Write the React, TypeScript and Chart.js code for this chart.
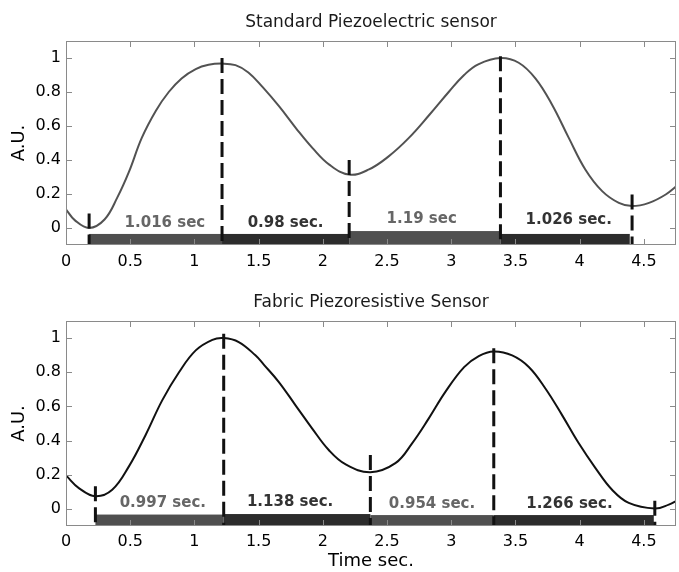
import React, { useEffect, useRef } from "react";
import { Chart, registerables } from "chart.js";

Chart.register(...registerables);

const FONT = "'DejaVu Sans', sans-serif";

// ---- axes ----
const X_MIN = 0;
const X_MAX = 4.75;
const Y_MIN = -0.1;
const Y_MAX = 1.1;
const xTicks = [0, 0.5, 1, 1.5, 2, 2.5, 3, 3.5, 4, 4.5];
const xTickLabels = ["0", "0.5", "1", "1.5", "2", "2.5", "3", "3.5", "4", "4.5"];
const yTicks = [0, 0.2, 0.4, 0.6, 0.8, 1];
const yTickLabels = ["0", "0.2", "0.4", "0.6", "0.8", "1"];

// ---- top panel: Standard Piezoelectric sensor ----
const topTitle = "Standard Piezoelectric sensor";
const topTime = [0, 0.07, 0.18, 0.3, 0.4, 0.49, 0.59, 0.7, 0.8, 0.9, 1.01, 1.11, 1.215, 1.32, 1.42, 1.53, 1.66, 1.79, 1.92, 2.05, 2.205, 2.355, 2.51, 2.67, 2.83, 2.98, 3.1, 3.21, 3.383, 3.525, 3.655, 3.785, 3.915, 4.045, 4.175, 4.305, 4.408, 4.54, 4.67, 4.77];
const topSignal = [0.11, 0.045, 0.0, 0.05, 0.18, 0.33, 0.53, 0.69, 0.8, 0.88, 0.935, 0.96, 0.967, 0.958, 0.915, 0.83, 0.715, 0.588, 0.47, 0.373, 0.314, 0.343, 0.42, 0.53, 0.666, 0.8, 0.9, 0.963, 1.0, 0.972, 0.88, 0.725, 0.53, 0.343, 0.217, 0.148, 0.129, 0.148, 0.197, 0.256];
const topMarkX = [0.18, 1.215, 2.205, 3.383, 4.408];
const topMarkTop = [0.086, 1.0, 0.4, 1.01, 0.197];
const topBarStart = [0.18, 1.215, 2.205, 3.383];
const topBarEnd = [1.215, 2.205, 3.383, 4.39];
const topBarTop = [-0.035, -0.035, -0.018, -0.035];
const topLabels = ["1.016 sec", "0.98 sec.", "1.19 sec", "1.026 sec."];
const topLabelX = [0.77, 1.71, 2.77, 3.915];
const topLabelY = [0.031, 0.031, 0.05, 0.045];

// ---- bottom panel: Fabric Piezoresistive Sensor ----
const botTitle = "Fabric Piezoresistive Sensor";
const botTime = [0, 0.1, 0.229, 0.36, 0.49, 0.62, 0.75, 0.88, 1.01, 1.14, 1.228, 1.345, 1.475, 1.54, 1.656, 1.786, 1.916, 2.046, 2.175, 2.37, 2.565, 2.695, 2.825, 2.954, 3.1, 3.214, 3.331, 3.474, 3.604, 3.733, 3.863, 3.993, 4.123, 4.252, 4.382, 4.585, 4.694, 4.77];
const botSignal = [0.196, 0.122, 0.074, 0.112, 0.249, 0.433, 0.637, 0.8, 0.928, 0.99, 1.0, 0.977, 0.899, 0.845, 0.744, 0.608, 0.472, 0.345, 0.262, 0.215, 0.268, 0.384, 0.53, 0.685, 0.83, 0.895, 0.922, 0.899, 0.831, 0.705, 0.549, 0.384, 0.239, 0.112, 0.035, 0.002, 0.025, 0.054];
const botMarkX = [0.229, 1.228, 2.37, 3.331, 4.585];
const botMarkTop = [0.132, 1.025, 0.316, 0.94, 0.048];
const botBarStart = [0.229, 1.228, 2.37, 3.331];
const botBarEnd = [1.228, 2.37, 3.331, 4.577];
const botBarTop = [-0.033, -0.03, -0.036, -0.036];
const botLabels = ["0.997 sec.", "1.138 sec.", "0.954 sec.", "1.266 sec."];
const botLabelX = [0.754, 1.745, 2.85, 3.92];
const botLabelY = [0.035, 0.039, 0.029, 0.029];

const barColors = ["#4f4f4f", "#2c2c2c", "#505050", "#2c2c2c"];
const labelColors = ["#666666", "#333333", "#666666", "#333333"];

type PanelDef = {
  title: string;
  time: number[];
  signal: number[];
  curveColor: string;
  markX: number[];
  markTop: number[];
  barStart: number[];
  barEnd: number[];
  barTop: number[];
  labels: string[];
  labelX: number[];
  labelY: number[];
  height: number;
  padTop: number;
  titleBaseline: number;
  xAxisHeight: number;
  xTickPad: number;
  xTitle: string | null;
};

function makeDeco(p: PanelDef) {
  return {
    id: "deco",
    beforeDatasetsDraw(chart: any) {
      const { ctx, scales } = chart;
      const x = scales.x;
      const y = scales.y;
      ctx.save();
      p.barStart.forEach((s, i) => {
        const x0 = x.getPixelForValue(s);
        const x1 = x.getPixelForValue(p.barEnd[i]);
        const y0 = y.getPixelForValue(p.barTop[i]);
        const y1 = y.getPixelForValue(Y_MIN);
        ctx.fillStyle = barColors[i];
        ctx.fillRect(x0, y0, x1 - x0, y1 - y0);
      });
      ctx.restore();
    },
    afterDatasetsDraw(chart: any) {
      const { ctx, scales } = chart;
      const x = scales.x;
      const y = scales.y;
      ctx.save();
      ctx.font = "bold 15px " + FONT;
      ctx.textAlign = "center";
      ctx.textBaseline = "middle";
      p.labels.forEach((t, i) => {
        ctx.fillStyle = labelColors[i];
        ctx.fillText(t, x.getPixelForValue(p.labelX[i]), y.getPixelForValue(p.labelY[i]));
      });
      ctx.restore();
    },
    afterDraw(chart: any) {
      const { ctx, chartArea, scales } = chart;
      const { left, right, top, bottom } = chartArea;
      const x = scales.x;
      const y = scales.y;
      ctx.save();
      ctx.font = "17px " + FONT;
      ctx.fillStyle = "#1a1a1a";
      ctx.textAlign = "center";
      ctx.textBaseline = "alphabetic";
      ctx.fillText(p.title, (left + right) / 2, p.titleBaseline);
      ctx.strokeStyle = "#8a8a8a";
      ctx.lineWidth = 1;
      ctx.strokeRect(left + 0.5, top + 0.5, right - left - 1, bottom - top - 1);
      const L = 6;
      ctx.beginPath();
      xTicks.forEach((v) => {
        const px = Math.round(x.getPixelForValue(v)) + 0.5;
        ctx.moveTo(px, bottom);
        ctx.lineTo(px, bottom - L);
        ctx.moveTo(px, top);
        ctx.lineTo(px, top + L);
      });
      yTicks.forEach((v) => {
        const py = Math.round(y.getPixelForValue(v)) + 0.5;
        ctx.moveTo(left, py);
        ctx.lineTo(left + L, py);
        ctx.moveTo(right, py);
        ctx.lineTo(right - L, py);
      });
      ctx.stroke();
      ctx.restore();
    },
  };
}

function Panel({ p }: { p: PanelDef }) {
  const ref = useRef<HTMLCanvasElement | null>(null);
  useEffect(() => {
    if (!ref.current) return;
    const markers = p.markX.map((mx, i) => ({
      data: [
        { x: mx, y: p.markTop[i] },
        { x: mx, y: Y_MIN },
      ],
      borderColor: "#111111",
      borderWidth: 3,
      borderDash: [15, 6],
      pointRadius: 0,
      tension: 0,
      fill: false,
    }));
    const curve = {
      data: p.time.map((t, i) => ({ x: t, y: p.signal[i] })),
      borderColor: p.curveColor,
      borderWidth: 2,
      pointRadius: 0,
      tension: 0.4,
      fill: false,
    };
    const chart = new Chart(ref.current, {
      type: "line",
      data: { datasets: [...markers, curve] as any },
      options: {
        responsive: false,
        animation: false,
        devicePixelRatio: 1,
        layout: { padding: { left: 0, right: 3, top: p.padTop, bottom: 0 } },
        plugins: {
          legend: { display: false },
          tooltip: { enabled: false },
          title: { display: false },
        },
        scales: {
          x: {
            type: "linear",
            min: X_MIN,
            max: X_MAX,
            afterBuildTicks: (s: any) => {
              s.ticks = xTicks.map((v) => ({ value: v }));
            },
            afterFit: (s: any) => {
              s.height = p.xAxisHeight;
            },
            grid: { display: false, drawTicks: false },
            border: { display: false },
            ticks: {
              color: "#000",
              font: { family: FONT, size: 16 },
              padding: p.xTickPad,
              maxRotation: 0,
              autoSkip: false,
              callback: (v: any) => xTickLabels[xTicks.indexOf(Number(v))],
            },
            title: p.xTitle
              ? {
                  display: true,
                  text: p.xTitle,
                  color: "#000",
                  font: { family: FONT, size: 18 },
                  padding: { top: 0, bottom: 0 },
                }
              : { display: false },
          },
          y: {
            type: "linear",
            min: Y_MIN,
            max: Y_MAX,
            afterBuildTicks: (s: any) => {
              s.ticks = yTicks.map((v) => ({ value: v }));
            },
            afterFit: (s: any) => {
              s.width = 66;
            },
            grid: { display: false, drawTicks: false },
            border: { display: false },
            ticks: {
              color: "#000",
              font: { family: FONT, size: 16 },
              padding: 5,
              autoSkip: false,
              callback: (v: any) => yTickLabels[yTicks.indexOf(Number(v))],
            },
            title: {
              display: true,
              text: "A.U.",
              color: "#000",
              font: { family: FONT, size: 18 },
              padding: { top: 9, bottom: 0 },
            },
          },
        },
      } as any,
      plugins: [makeDeco(p)],
    });
    return () => chart.destroy();
  }, [p]);
  return <canvas ref={ref} width={679} height={p.height} style={{ display: "block" }} />;
}

const topPanel: PanelDef = {
  title: topTitle,
  time: topTime,
  signal: topSignal,
  curveColor: "#525252",
  markX: topMarkX,
  markTop: topMarkTop,
  barStart: topBarStart,
  barEnd: topBarEnd,
  barTop: topBarTop,
  labels: topLabels,
  labelX: topLabelX,
  labelY: topLabelY,
  height: 285,
  padTop: 41,
  titleBaseline: 27,
  xAxisHeight: 40,
  xTickPad: 7,
  xTitle: null,
};

const botPanel: PanelDef = {
  title: botTitle,
  time: botTime,
  signal: botSignal,
  curveColor: "#111111",
  markX: botMarkX,
  markTop: botMarkTop,
  barStart: botBarStart,
  barEnd: botBarEnd,
  barTop: botBarTop,
  labels: botLabels,
  labelX: botLabelX,
  labelY: botLabelY,
  height: 287,
  padTop: 36,
  titleBaseline: 22,
  xAxisHeight: 46,
  xTickPad: 6,
  xTitle: "Time sec.",
};

export default function App() {
  return (
    <div style={{ position: "absolute", left: 0, top: 0, width: 679, height: 572, background: "#fff" }}>
      <Panel p={topPanel} />
      <Panel p={botPanel} />
    </div>
  );
}
